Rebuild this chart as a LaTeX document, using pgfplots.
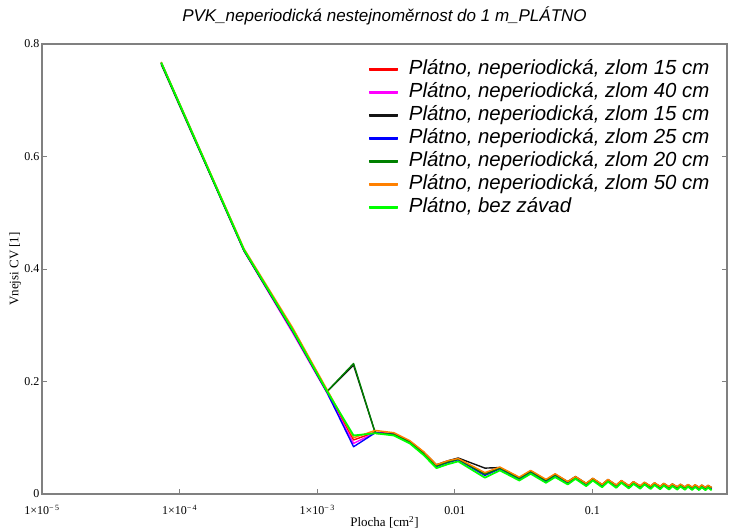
\documentclass[border=0pt]{standalone}
\usepackage{fontspec}
\setmainfont{Liberation Serif}
\newfontfamily\arialfont{Liberation Sans}
\usepackage{pgfplots}
\usepackage{pgfplotstable}
\pgfplotsset{compat=1.18}

\definecolor{cvred}{RGB}{255,0,0}
\definecolor{cvmag}{RGB}{255,0,255}
\definecolor{cvblk}{RGB}{20,20,20}
\definecolor{cvblu}{RGB}{0,0,255}
\definecolor{cvdgr}{RGB}{0,128,0}
\definecolor{cvorg}{RGB}{255,128,0}
\definecolor{cvgrn}{RGB}{0,255,0}
\definecolor{framegray}{RGB}{128,128,128}

% window area [cm^2] and outer CV for each measured variant
\pgfplotstableread{
x         r      m      k      b      d      o      g
7.35e-5   0.767  0.767  0.764  0.767  0.766  0.768  0.767
2.94e-4   0.434  0.432  0.432  0.433  0.433  0.436  0.434
6.615e-4  0.292  0.287  0.290  0.290  0.291  0.296  0.292
1.176e-3  0.183  0.180  0.182  0.181  0.182  0.186  0.183
1.8375e-3 0.096  0.090  0.229  0.084  0.232  0.100  0.104
2.646e-3  0.110  0.109  0.108  0.109  0.108  0.113  0.108
3.6015e-3 0.107  0.106  0.106  0.106  0.106  0.109  0.104
4.704e-3  0.093  0.092  0.093  0.092  0.092  0.095  0.090
5.9535e-3 0.073  0.072  0.074  0.072  0.072  0.075  0.069
7.35e-3   0.050  0.049  0.052  0.049  0.050  0.052  0.046
8.8935e-3 0.057  0.056  0.059  0.056  0.057  0.059  0.053
0.010584  0.062  0.061  0.064  0.061  0.062  0.063  0.058
0.0165375 0.036  0.034  0.046  0.033  0.035  0.038  0.029
0.0212415 0.046  0.045  0.047  0.045  0.046  0.048  0.042
0.0294    0.028  0.027  0.029  0.026  0.028  0.030  0.024
0.035574  0.040  0.039  0.041  0.039  0.040  0.042  0.036
0.0459375 0.024  0.023  0.025  0.022  0.024  0.026  0.020
0.0535815 0.034  0.033  0.035  0.033  0.034  0.036  0.030
0.06615   0.021  0.020  0.022  0.019  0.021  0.022  0.017
0.075264  0.030  0.029  0.031  0.029  0.030  0.031  0.027
0.0900375 0.018  0.0175 0.0187 0.017  0.018  0.019  0.014
0.1006215 0.027  0.0265 0.0277 0.026  0.027  0.028  0.024
0.1176    0.016  0.0155 0.0167 0.015  0.016  0.017  0.012
0.129654  0.025  0.0245 0.0257 0.024  0.025  0.026  0.022
0.1488375 0.015  0.0145 0.0157 0.014  0.015  0.016  0.011
0.1623615 0.023  0.0225 0.0237 0.022  0.023  0.024  0.020
0.18375   0.014  0.0135 0.0147 0.013  0.014  0.015  0.010
0.198744  0.021  0.0205 0.0217 0.020  0.021  0.022  0.018
0.2223375 0.0135 0.013  0.0142 0.0125 0.0135 0.0145 0.0095
0.2388015 0.020  0.0195 0.0207 0.019  0.020  0.021  0.017
0.2646    0.013  0.0125 0.0137 0.012  0.013  0.014  0.009
0.282534  0.019  0.0185 0.0197 0.018  0.019  0.020  0.016
0.3105375 0.0125 0.012  0.0132 0.0115 0.0125 0.0135 0.0085
0.3299415 0.018  0.0175 0.0187 0.017  0.018  0.019  0.015
0.36015   0.012  0.0115 0.0127 0.011  0.012  0.013  0.008
0.381024  0.017  0.0165 0.0177 0.016  0.017  0.018  0.014
0.4134375 0.0118 0.0113 0.0125 0.0108 0.0118 0.0128 0.0078
0.4357815 0.0165 0.016  0.0172 0.0155 0.0165 0.0175 0.0135
0.4704    0.0115 0.011  0.0122 0.0105 0.0115 0.0125 0.0075
0.494214  0.016  0.0155 0.0167 0.015  0.016  0.017  0.013
0.5310375 0.0112 0.0107 0.0119 0.0102 0.0112 0.0122 0.0072
0.5563215 0.0155 0.015  0.0162 0.0145 0.0155 0.0165 0.0125
0.59535   0.011  0.0105 0.0117 0.010  0.011  0.012  0.007
0.622104  0.015  0.0145 0.0157 0.014  0.015  0.016  0.012
0.6633375 0.0108 0.0103 0.0115 0.0098 0.0108 0.0118 0.0068
0.6915615 0.0145 0.014  0.0152 0.0135 0.0145 0.0155 0.0115
0.735     0.0106 0.0101 0.0113 0.0096 0.0106 0.0116 0.0066
}\cvdata

\begin{document}
\begin{tikzpicture}
\begin{axis}[
  scale only axis,
  width=685pt, height=450pt,
  xmode=log,
  xmin=1e-5, xmax=0.95,
  ymin=0, ymax=0.8,
  xtick={1e-5,1e-4,1e-3,1e-2,1e-1},
  xticklabels={1×10\textsuperscript{−\,5},1×10\textsuperscript{−\,4},1×10\textsuperscript{−\,3},0.01,0.1},
  xminorticks=false,
  ytick={0,0.2,0.4,0.6,0.8},
  yticklabels={0,0.2,0.4,0.6,0.8},
  xtick pos=bottom,
  tick align=inside,
  major tick length=5pt,
  axis line style={framegray, line width=1.3pt},
  every tick/.style={framegray, line width=0.9pt},
  tick label style={font=\fontsize{12}{14}\selectfont},
  xticklabel style={anchor=base, yshift=-21pt},
  yticklabel style={anchor=east, xshift=1pt},
  title={PVK\_neperiodická nestejnoměrnost do 1 m\_PLÁTNO},
  title style={font=\arialfont\itshape\fontsize{17}{20}\selectfont, at={(axis description cs:0.5,1)}, anchor=base, yshift=16.5pt},
  xlabel={Plocha [cm\textsuperscript{2}]},
  xlabel style={font=\fontsize{13}{15}\selectfont, at={(axis description cs:0.5,0)}, anchor=base, yshift=-33pt},
  ylabel={Vnejsi CV [1]},
  ylabel style={font=\fontsize{13}{15}\selectfont, at={(axis description cs:-0.039,0.5)}, anchor=center},
  legend style={draw=none, fill=none, inner sep=0pt, at={(0.4766,0.97)}, anchor=north west,
    font=\arialfont\itshape\fontsize{20.4}{24}\selectfont,
    nodes={inner sep=1.5pt, text height=15pt, text depth=5pt},
    /tikz/every odd column/.append style={column sep=9pt}},
  legend cell align=left,
  legend image code/.code={\fill[#1] (0pt,-0.75pt) rectangle (28pt,0.75pt);},
  every axis plot/.append style={line width=1.4pt, line join=round, mark=none},
]
\addplot[cvred] table[x=x, y=r]{\cvdata};
\addlegendentry{Plátno, neperiodická, zlom 15 cm}
\addplot[cvmag] table[x=x, y=m]{\cvdata};
\addlegendentry{Plátno, neperiodická, zlom 40 cm}
\addplot[cvblk] table[x=x, y=k]{\cvdata};
\addlegendentry{Plátno, neperiodická, zlom 15 cm}
\addplot[cvblu] table[x=x, y=b]{\cvdata};
\addlegendentry{Plátno, neperiodická, zlom 25 cm}
\addplot[cvdgr] table[x=x, y=d]{\cvdata};
\addlegendentry{Plátno, neperiodická, zlom 20 cm}
\addplot[cvorg] table[x=x, y=o]{\cvdata};
\addlegendentry{Plátno, neperiodická, zlom 50 cm}
\addplot[cvgrn, line width=1.8pt] table[x=x, y=g]{\cvdata};
\addlegendentry{Plátno, bez závad}
\end{axis}
\pgfresetboundingbox
\useasboundingbox (-42pt,-38pt) rectangle (687pt,494pt);
\end{tikzpicture}
\end{document}
